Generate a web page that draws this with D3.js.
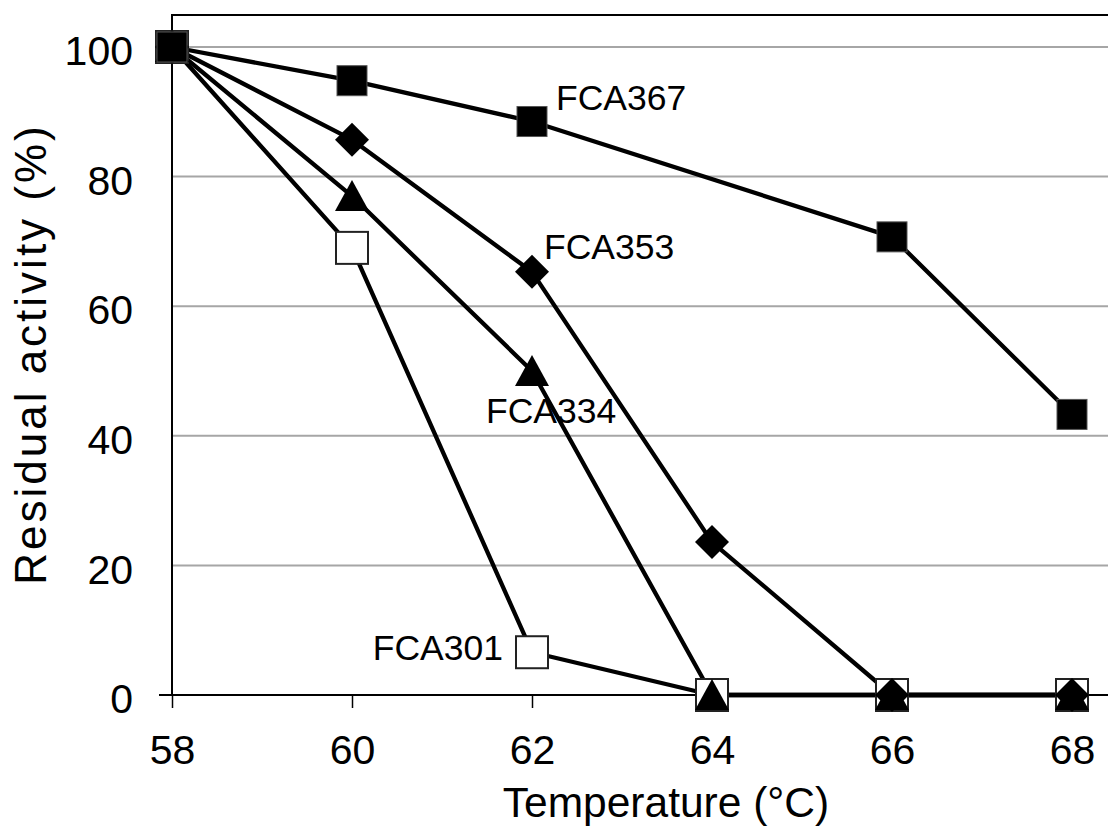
<!DOCTYPE html>
<html>
<head>
<meta charset="utf-8">
<script src="https://cdn.jsdelivr.net/npm/d3@7"></script>
<style>
  body { margin: 0; background: #fff; }
  svg text { font-family: "Liberation Sans", Arial, sans-serif; fill: #000; }
</style>
</head>
<body>
<script>
var w = 1108,
    h = 827;

var temps = [58, 60, 62, 64, 66, 68];
var yTicks = [0, 20, 40, 60, 80, 100];

// null = no measurement at that temperature
var fca301 = [100, 69, 6.6, 0, 0, 0];
var fca334 = [100, 77, 50, 0, 0, 0];
var fca353 = [100, 85.7, 65.3, 23.6, 0, 0];
var fca367 = [100, 94.8, 88.5, null, 70.7, 43.3];

var seriesNames = ["FCA301", "FCA334", "FCA353", "FCA367"];

var x = d3.scaleLinear().domain([58, 68]).range([172, 1072]);
var y = d3.scaleLinear().domain([0, 100]).range([695, 47]);

var svg = d3.select("body").append("svg")
  .attr("width", w)
  .attr("height", h);

// gridlines
svg.selectAll("line.grid").data(yTicks.filter(function(d) { return d > 0; }))
  .enter().append("line")
  .attr("class", "grid")
  .attr("x1", x(58)).attr("x2", w)
  .attr("y1", function(d) { return y(d); })
  .attr("y2", function(d) { return y(d); })
  .attr("stroke", "#a6a6a6")
  .attr("stroke-width", 2);

// frame: top and left
svg.append("line")
  .attr("x1", x(58)).attr("x2", w)
  .attr("y1", 15).attr("y2", 15)
  .attr("stroke", "#000").attr("stroke-width", 2);
svg.append("line")
  .attr("x1", x(58)).attr("x2", x(58))
  .attr("y1", 14).attr("y2", y(0))
  .attr("stroke", "#000").attr("stroke-width", 2);

// x axis
var xAxis = d3.axisBottom(x).tickValues(temps).tickSize(13).tickPadding(27)
  .tickFormat(d3.format("d"));
var gx = svg.append("g").attr("transform", "translate(0," + y(0) + ")").call(xAxis);
gx.select(".domain").remove();
gx.selectAll(".tick line").attr("stroke", "#000").attr("stroke-width", 1.5);
gx.selectAll(".tick text").attr("font-size", 41).attr("dy", "0.71em")
  .attr("font-family", "Liberation Sans, Arial, sans-serif").attr("fill", "#000");
svg.append("line")
  .attr("x1", 159).attr("x2", w)
  .attr("y1", y(0)).attr("y2", y(0))
  .attr("stroke", "#000").attr("stroke-width", 2);

// y axis labels
var yAxis = d3.axisLeft(y).tickValues(yTicks).tickSize(0).tickPadding(39);
var gy = svg.append("g").attr("transform", "translate(" + x(58) + ",0)").call(yAxis);
gy.select(".domain").remove();
gy.selectAll(".tick text").attr("font-size", 41).attr("dy", "0.43em")
  .attr("font-family", "Liberation Sans, Arial, sans-serif").attr("fill", "#000");

// axis titles
svg.append("text")
  .attr("x", 666).attr("y", 817)
  .attr("text-anchor", "middle")
  .attr("font-size", 42.5)
  .text("Temperature (°C)");
svg.append("text")
  .attr("transform", "translate(46,354) rotate(-90)")
  .attr("text-anchor", "middle")
  .attr("font-size", 44)
  .attr("letter-spacing", 3)
  .text("Residual activity (%)");

var line = d3.line()
  .x(function(d) { return x(d.t); })
  .y(function(d) { return y(d.v); });

function pts(vals) {
  return temps.map(function(t, i) { return {t: t, v: vals[i]}; })
    .filter(function(d) { return d.v !== null; });
}

var symbols = {
  FCA301: function(g) {
    g.append("rect").attr("x", -16).attr("y", -16).attr("width", 32).attr("height", 32)
      .attr("fill", "#fff").attr("stroke", "#222").attr("stroke-width", 2);
  },
  FCA334: function(g) {
    g.append("path").attr("d", "M0,-16L17,15L-17,15Z").attr("fill", "#000");
  },
  FCA353: function(g) {
    g.append("path").attr("d", "M0,-17L17,0L0,17L-17,0Z").attr("fill", "#000");
  },
  FCA367: function(g) {
    g.append("rect").attr("x", -15).attr("y", -15).attr("width", 30).attr("height", 30)
      .attr("fill", "#000").attr("stroke", "#555").attr("stroke-width", 1);
  }
};

var allVals = [fca301, fca334, fca353, fca367];

allVals.forEach(function(vals) {
  svg.append("path")
    .datum(pts(vals))
    .attr("d", line)
    .attr("fill", "none")
    .attr("stroke", "#000")
    .attr("stroke-width", 4.3)
    .attr("stroke-linejoin", "round");
});

allVals.forEach(function(vals, k) {
  svg.selectAll("g.m" + k).data(pts(vals))
    .enter().append("g")
    .attr("class", "m" + k)
    .attr("transform", function(d) { return "translate(" + x(d.t) + "," + y(d.v) + ")"; })
    .each(function() { symbols[seriesNames[k]](d3.select(this)); });
});

// series labels, anchored to the 62 °C point
var labelOffsets = {
  FCA367: [24, -12, "start"],
  FCA353: [12, -13, "start"],
  FCA334: [-46, 52, "start"],
  FCA301: [-29, 8, "end"]
};
seriesNames.forEach(function(name, k) {
  var o = labelOffsets[name];
  svg.append("text")
    .attr("x", x(62) + o[0])
    .attr("y", y(allVals[k][2]) + o[1])
    .attr("text-anchor", o[2])
    .attr("font-size", 35.5)
    .text(name);
});
</script>
</body>
</html>
